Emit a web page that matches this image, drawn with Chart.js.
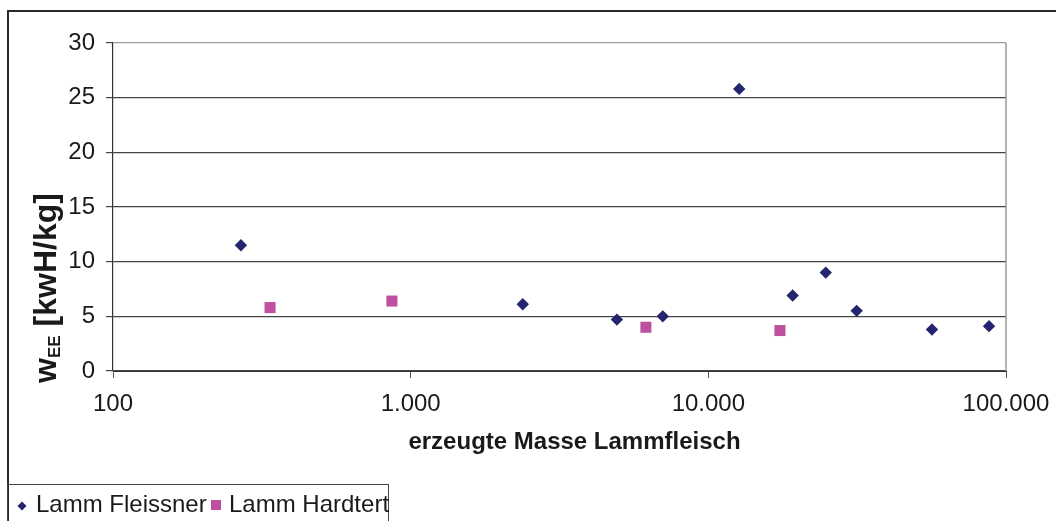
<!DOCTYPE html>
<html>
<head>
<meta charset="utf-8">
<script src="https://cdn.jsdelivr.net/npm/chart.js@4.4.0/dist/chart.umd.min.js"></script>
<style>
  html, body { margin: 0; padding: 0; background: #fff; overflow: hidden; }
  #wrap { position: relative; width: 1056px; height: 521px; }
</style>
</head>
<body>
<div id="wrap"><canvas id="lammChart" width="1056" height="521"></canvas></div>
<script>
// ---- DATA ----
const fleissnerMasse = [269, 2380, 4930, 7030, 12700, 19200, 24800, 31500, 56400, 87700];
const fleissnerWee   = [11.5, 6.1, 4.7, 5.0, 25.8, 6.9, 9.0, 5.5, 3.8, 4.1];
const hardtertMasse  = [337, 865, 6170, 17400];
const hardtertWee    = [5.8, 6.4, 4.0, 3.7];

const seriesNames = ["Lamm Fleissner", "Lamm Hardtert"];
const xTicks      = [100, 1000, 10000, 100000];
const xTickLabels = ["100", "1.000", "10.000", "100.000"];
const xTitle      = "erzeugte Masse Lammfleisch";

const FONT = "'Liberation Sans', Arial, sans-serif";
const NAVY = "#24246f";
const PINK = "#bf50a0";

// build point lists for the scatter datasets
function toPoints(xs, ys) {
    return xs.map((x, i) => ({ x: x, y: ys[i] }));
}

// ---- extra drawing: frame, plot border, axis titles, legend box ----
const decorPlugin = {
    id: "decor",
    afterDraw(chart) {
        const ctx = chart.ctx;
        const area = chart.chartArea;
        ctx.save();

        // grey plot-area border on the right
        ctx.strokeStyle = "#9a9a9a";
        ctx.lineWidth = 1.5;
        ctx.beginPath();
        ctx.moveTo(area.right, area.top);
        ctx.lineTo(area.right, area.bottom);
        ctx.stroke();

        // outer chart frame (left + top, rest is cut off)
        ctx.strokeStyle = "#2b2b2b";
        ctx.lineWidth = 2;
        ctx.beginPath();
        ctx.moveTo(8, 521);
        ctx.lineTo(8, 11);
        ctx.lineTo(1056, 11);
        ctx.stroke();

        // x axis title
        ctx.fillStyle = "#1a1a1a";
        ctx.font = "bold 24px " + FONT;
        ctx.textAlign = "center";
        ctx.textBaseline = "middle";
        ctx.fillText(xTitle, area.left + (area.right - area.left) / 2 + 15, 442);

        // y axis title: w_EE [kwH/kg]
        const mainFont = "bold 32px " + FONT;
        const subFont = "bold 17px " + FONT;
        ctx.font = mainFont;
        const wW = ctx.measureText("w").width;
        const wRest = ctx.measureText(" [kwH/kg]").width;
        ctx.font = subFont;
        const wSub = ctx.measureText("EE").width;
        const total = wW + wSub + wRest;
        const cy = 288;
        ctx.translate(56, cy + total / 2);
        ctx.rotate(-Math.PI / 2);
        ctx.textBaseline = "alphabetic";
        ctx.textAlign = "left";
        ctx.font = mainFont;
        ctx.fillText("w", 0, 0);
        ctx.font = subFont;
        ctx.fillText("EE", wW, 4);
        ctx.font = mainFont;
        ctx.fillText(" [kwH/kg]", wW + wSub, 0);
        ctx.setTransform(1, 0, 0, 1, 0, 0);

        // legend box
        ctx.strokeStyle = "#444";
        ctx.lineWidth = 1;
        ctx.strokeRect(7.5, 484.5, 381, 60);

        const ds = chart.data.datasets;
        ctx.font = "24px " + FONT;
        ctx.textBaseline = "alphabetic";

        // diamond
        ctx.fillStyle = ds[0].backgroundColor;
        ctx.beginPath();
        ctx.moveTo(22, 501.5);
        ctx.lineTo(26.5, 506);
        ctx.lineTo(22, 510.5);
        ctx.lineTo(17.5, 506);
        ctx.closePath();
        ctx.fill();
        ctx.fillStyle = "#1a1a1a";
        ctx.fillText(ds[0].label, 36, 512);

        // square
        ctx.fillStyle = ds[1].backgroundColor;
        ctx.fillRect(211, 500, 10, 10);
        ctx.fillStyle = "#1a1a1a";
        ctx.fillText(ds[1].label, 229, 512);

        ctx.restore();
    }
};

const ctx = document.getElementById("lammChart").getContext("2d");

new Chart(ctx, {
    type: "scatter",
    data: {
        datasets: [
            {
                label: seriesNames[0],
                data: toPoints(fleissnerMasse, fleissnerWee),
                pointStyle: "rectRot",
                pointRadius: 6.2,
                pointHoverRadius: 6.2,
                borderWidth: 0,
                backgroundColor: NAVY,
                borderColor: NAVY
            },
            {
                label: seriesNames[1],
                data: toPoints(hardtertMasse, hardtertWee),
                pointStyle: "rect",
                pointRadius: 7.8,
                pointHoverRadius: 7.8,
                borderWidth: 0,
                backgroundColor: PINK,
                borderColor: PINK
            }
        ]
    },
    options: {
        responsive: false,
        animation: false,
        layout: {
            padding: { top: 43, right: 50, left: 0, bottom: 65 }
        },
        plugins: {
            legend: { display: false },
            tooltip: { enabled: false }
        },
        scales: {
            x: {
                type: "logarithmic",
                min: 100,
                max: 100000,
                afterBuildTicks: scale => {
                    scale.ticks = xTicks.map(v => ({ value: v }));
                },
                afterFit: scale => {
                    scale.height = 85;
                    scale.paddingLeft = 0;
                    scale.paddingRight = 0;
                },
                ticks: {
                    padding: 12,
                    color: "#1a1a1a",
                    font: { family: FONT, size: 24 },
                    autoSkip: false,
                    maxRotation: 0,
                    callback: (value) => {
                        const i = xTicks.indexOf(value);
                        return i >= 0 ? xTickLabels[i] : "";
                    }
                },
                grid: {
                    drawOnChartArea: false,
                    drawTicks: true,
                    tickLength: 7,
                    tickColor: "#555"
                },
                border: { display: true, color: "#333", width: 1 }
            },
            y: {
                min: 0,
                max: 30,
                afterFit: scale => { scale.width = 113; },
                ticks: {
                    stepSize: 5,
                    padding: 11,
                    color: "#1a1a1a",
                    font: { family: FONT, size: 24 }
                },
                grid: {
                    color: c => (c.tick && c.tick.value === 30) ? "#9a9a9a" : "#444",
                    lineWidth: 1.2,
                    tickLength: 7,
                    tickColor: "#444"
                },
                border: { display: true, color: "#333", width: 1.2 }
            }
        }
    },
    plugins: [decorPlugin]
});
</script>
</body>
</html>
